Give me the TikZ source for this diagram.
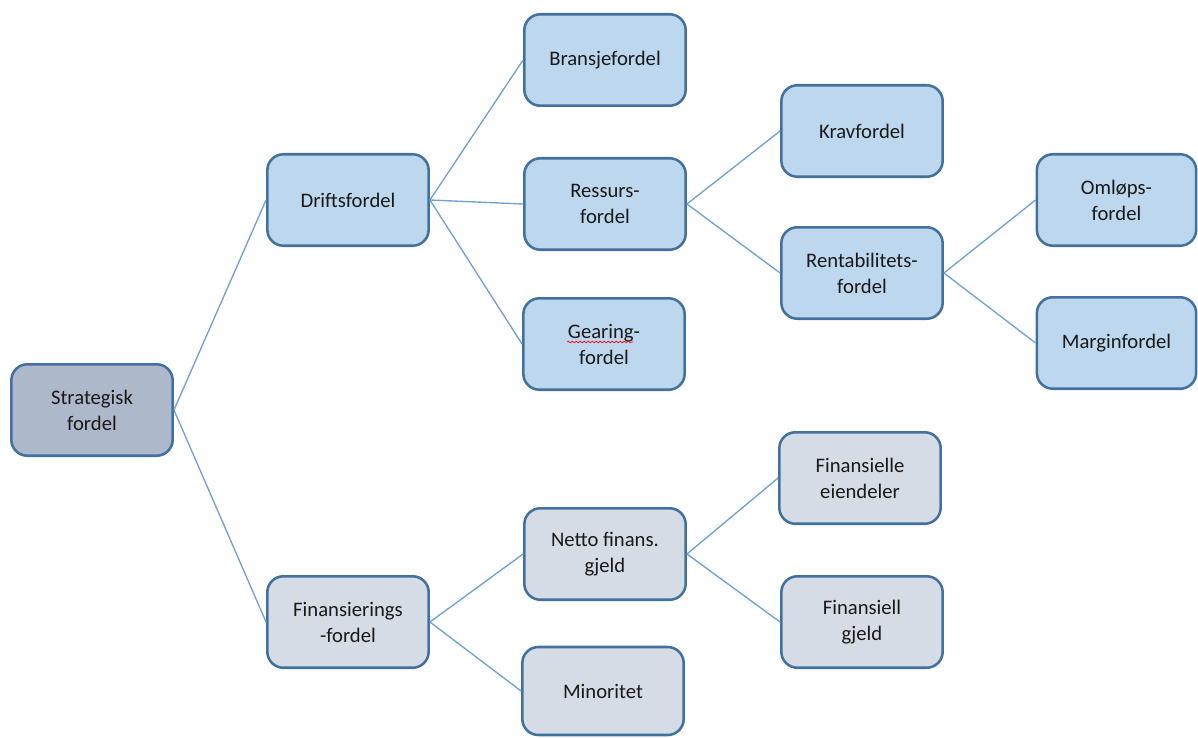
\documentclass[tikz,border=0pt]{standalone}
\usepackage{fontspec}
\setmainfont{Carlito}
\usetikzlibrary{decorations.pathmorphing}
\definecolor{boxline}{HTML}{41719C}
\definecolor{linkline}{HTML}{6FA0D6}
\definecolor{blueFill}{HTML}{BDD7EE}
\definecolor{grayFill}{HTML}{D6DCE5}
\definecolor{rootFill}{HTML}{ADB9CA}
\tikzset{
  px/.style={x=0.75pt,y=-0.75pt},
  box/.style={draw=boxline, line width=1.9pt, rounded corners=12pt,
    minimum width=121pt, minimum height=68.6pt, align=center,
    font=\fontsize{15.5}{19.5}\selectfont, text=black!90},
  bbox/.style={box, fill=blueFill},
  gbox/.style={box, fill=grayFill},
  rbox/.style={box, fill=rootFill},
  link/.style={draw=linkline, line width=1pt}
}
\begin{document}
\begin{tikzpicture}[px]
\useasboundingbox (0,0) rectangle (1198,738);
\node[rbox] (strat) at (92,410) {Strategisk\\fordel};
\node[bbox] (drift) at (348,200) {Driftsfordel};
\node[gbox] (finans) at (348,622) {Finansierings\\-fordel};
\node[bbox] (bransje) at (605,60) {Bransjefordel};
\node[bbox] (ressurs) at (605,204) {Ressurs-\\fordel};
\node[bbox] (gearing) at (604,344) {Gearing-\\fordel};
\node[gbox] (netto) at (605,554) {Netto finans.\\gjeld};
\node[gbox, minimum height=66pt] (minor) at (603,691) {Minoritet};
\node[bbox] (krav) at (862,131) {Kravfordel};
\node[bbox] (rent) at (862,273) {Rentabilitets-\\fordel};
\node[gbox] (fineien) at (860,478) {Finansielle\\eiendeler};
\node[gbox] (fingjeld) at (862,622) {Finansiell\\gjeld};
\node[bbox, minimum width=119.5pt] (omlops) at (1116.5,200) {Omløps-\\fordel};
\node[bbox, minimum width=119.5pt] (margin) at (1116.5,343) {Marginfordel};
\draw[red, line width=0.5pt, decorate, decoration={snake, amplitude=0.6pt, segment length=3pt}]
  (567,342) coordinate (wl) -- (633,342) coordinate (wr);
\path[link] (strat.east) -- (drift.west)
  (strat.east) -- (finans.west)
  (drift.east) -- (bransje.west)
  (drift.east) -- (ressurs.west)
  (drift.east) -- (gearing.west)
  (ressurs.east) -- (krav.west)
  (ressurs.east) -- (rent.west)
  (rent.east) -- (omlops.west)
  (rent.east) -- (margin.west)
  (finans.east) -- (netto.west)
  (finans.east) -- (minor.west)
  (netto.east) -- (fineien.west)
  (netto.east) -- (fingjeld.west);
\end{tikzpicture}
\end{document}
